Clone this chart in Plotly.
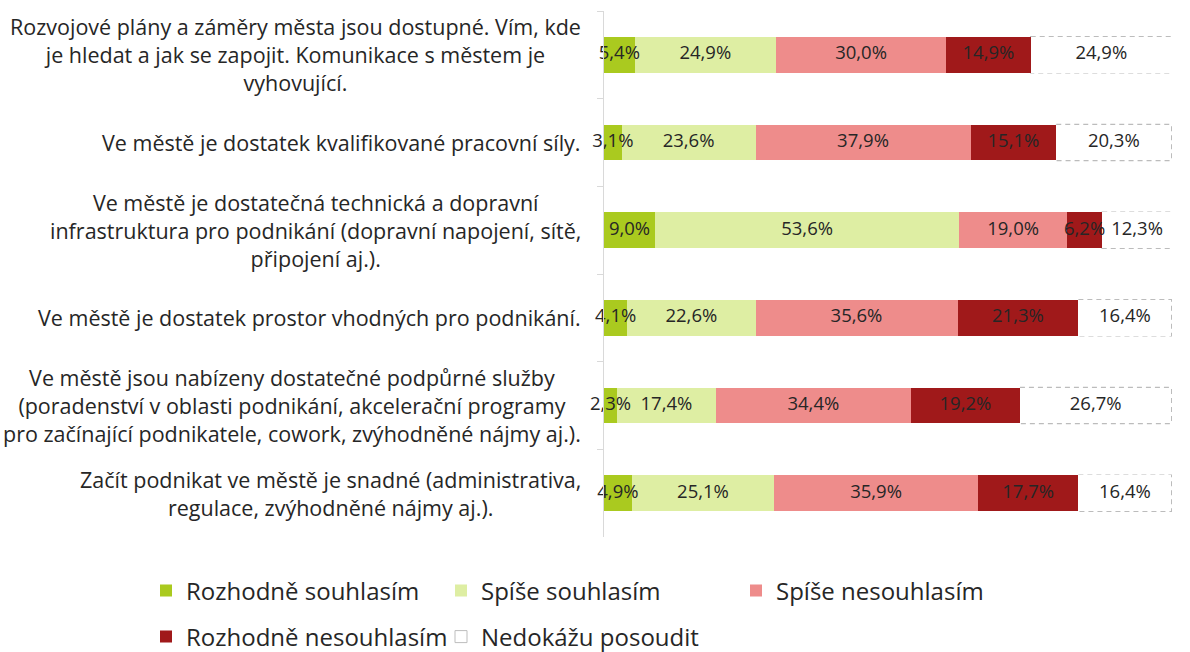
import plotly.graph_objects as go

categories = [
    "Rozvojové plány a záměry města jsou dostupné. Vím, kde<br>je hledat a jak se zapojit. Komunikace s městem je<br>vyhovující.",
    "Ve městě je dostatek kvalifikované pracovní síly.",
    "Ve městě je dostatečná technická a dopravní<br>infrastruktura pro podnikání (dopravní napojení, sítě,<br>připojení aj.).",
    "Ve městě je dostatek prostor vhodných pro podnikání.",
    "Ve městě jsou nabízeny dostatečné podpůrné služby<br>(poradenství v oblasti podnikání, akcelerační programy<br>pro začínající podnikatele, cowork, zvýhodněné nájmy aj.).",
    "Začít podnikat ve městě je snadné (administrativa,<br>regulace, zvýhodněné nájmy aj.).",
]
series_names = ["Rozhodně souhlasím", "Spíše souhlasím", "Spíše nesouhlasím",
                "Rozhodně nesouhlasím", "Nedokážu posoudit"]
rozhodne_souhlasim = [5.4, 3.1, 9.0, 4.1, 2.3, 4.9]
spise_souhlasim = [24.9, 23.6, 53.6, 22.6, 17.4, 25.1]
spise_nesouhlasim = [30.0, 37.9, 19.0, 35.6, 34.4, 35.9]
rozhodne_nesouhlasim = [14.9, 15.1, 6.2, 21.3, 19.2, 17.7]
nedokazu_posoudit = [24.9, 20.3, 12.3, 16.4, 26.7, 16.4]

series_values = [rozhodne_souhlasim, spise_souhlasim, spise_nesouhlasim,
                 rozhodne_nesouhlasim, nedokazu_posoudit]
colors = ["#AACA1F", "#DEEEA3", "#EE8C8B", "#A0191A", "#FFFFFF"]

W, H = 1190, 652
ML, MR, MT, MB = 604, 18, 11, 115
PW = W - ML - MR
PH = H - MT - MB
BAR_W = 0.41
FONT = "Open Sans"
TXT = "#262626"


def fmt(v):
    return f"{v:.1f}".replace(".", ",") + "%"


cat_idx = list(range(len(categories)))
fig = go.Figure()
for k, (name, vals, col) in enumerate(zip(series_names, series_values, colors)):
    fig.add_trace(go.Bar(
        y=cat_idx, x=vals, orientation="h", name=name,
        marker=dict(color=col, line=dict(width=0)),
        width=BAR_W,
        showlegend=(k < 4),
        legend="legend" if k < 3 else "legend2",
        hoverinfo="skip",
    ))

# legend entry for the dashed series
fig.add_trace(go.Bar(
    y=[None], x=[None], orientation="h", name=series_names[4],
    marker=dict(color="#FFFFFF", line=dict(color="#BDBDBD", width=1)),
    legend="legend2", showlegend=True,
))

# data labels centred on each segment
cum = [0.0] * len(categories)
for vals in series_values:
    mids = [cum[i] + vals[i] / 2 for i in cat_idx]
    fig.add_trace(go.Scatter(
        x=mids, y=cat_idx, mode="text", text=[fmt(v) for v in vals],
        textposition="middle center", cliponaxis=False, showlegend=False,
        textfont=dict(family=FONT, size=18.5, color=TXT), hoverinfo="skip",
    ))
    cum = [cum[i] + vals[i] for i in cat_idx]

# dashed outlines around the "Nedokážu posoudit" segments
for i in cat_idx:
    start = sum(series_values[s][i] for s in range(4))
    end = start + nedokazu_posoudit[i]
    fig.add_shape(type="rect", xref="x", yref="y",
                  x0=start, x1=end, y0=i - BAR_W / 2, y1=i + BAR_W / 2,
                  line=dict(color="#BCBCBC", width=1.5, dash="5px,4px"),
                  fillcolor="rgba(0,0,0,0)", layer="below")

# category labels
for i, c in enumerate(categories):
    fig.add_annotation(x=-(ML - 583) / PW, xref="paper", y=i, yref="y",
                       text=c, showarrow=False, xanchor="right", yanchor="middle",
                       align="center", font=dict(family=FONT, size=21.5, color=TXT))

legend_common = dict(orientation="h", entrywidth=250, entrywidthmode="pixels",
                     font=dict(family=FONT, size=24, color=TXT), traceorder="normal",
                     xanchor="left", yanchor="middle", bgcolor="rgba(0,0,0,0)",
                     itemclick=False, itemdoubleclick=False)
fig.update_layout(
    width=W, height=H,
    margin=dict(l=ML, r=MR, t=MT, b=MB, autoexpand=False),
    paper_bgcolor="white", plot_bgcolor="white",
    barmode="stack",
    font=dict(family=FONT, color=TXT),
    xaxis=dict(range=[0, 100.1], visible=False, fixedrange=True),
    yaxis=dict(type="category", range=[5.5, -0.5], tickson="boundaries",
               ticks="outside", ticklen=6, tickcolor="#D9D9D9", tickwidth=1,
               showline=True, linecolor="#D9D9D9", linewidth=1,
               showticklabels=False, showgrid=False, zeroline=False, fixedrange=True),
    legend=dict(x=(146 - ML) / PW, y=-(591 - (H - MB)) / PH, **legend_common),
    legend2=dict(x=(146 - ML) / PW, y=-(637 - (H - MB)) / PH, **legend_common),
    showlegend=True,
)

fig.write_html("out.html", config={"displayModeBar": False},
               post_script="document.body.style.margin='0';")
